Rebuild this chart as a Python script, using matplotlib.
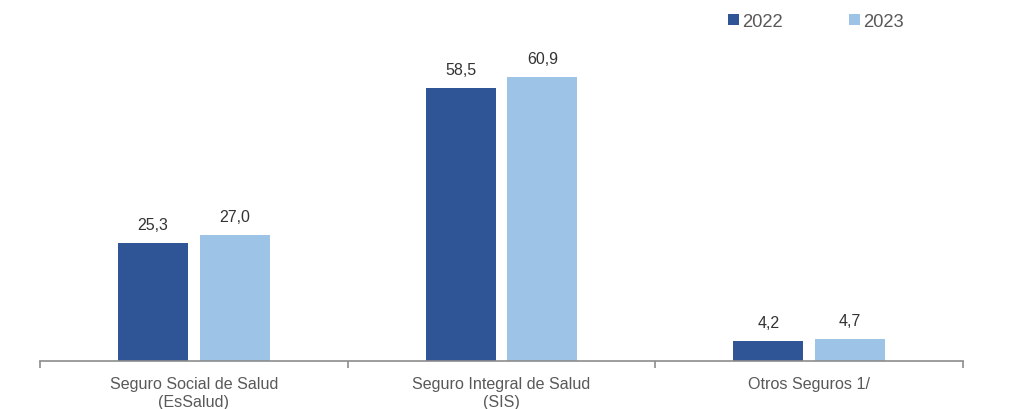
import numpy as np
import matplotlib.pyplot as plt

plt.rcParams['font.family'] = ['Liberation Sans', 'DejaVu Sans']

categorias = ['Seguro Social de Salud\n(EsSalud)', 'Seguro Integral de Salud\n(SIS)', 'Otros Seguros 1/']
valores_2022 = [25.3, 58.5, 4.2]
valores_2023 = [27.0, 60.9, 4.7]
anios = ['2022', '2023']
colores = ['#2F5597', '#9DC3E6']
gris = '#595959'

fig = plt.figure(figsize=(10.12, 4.10), dpi=100)
ax = fig.add_axes([40 / 1012, 48 / 410, 923 / 1012, 326.7 / 410])

x = np.arange(len(categorias))
ancho = 0.2275
desp = 0.133
b1 = ax.bar(x - desp, valores_2022, ancho, color=colores[0], label=anios[0])
b2 = ax.bar(x + desp, valores_2023, ancho, color=colores[1], label=anios[1])

for barras in (b1, b2):
    for b in barras:
        h = b.get_height()
        ax.annotate(f'{h:.1f}'.replace('.', ','), (b.get_x() + b.get_width() / 2, h),
                    xytext=(0, 8), textcoords='offset points', ha='center', va='bottom',
                    fontsize=11.5, color='#333333')

ax.set_xlim(-0.5, len(categorias) - 0.5)
ax.set_ylim(0, 70)
ax.set_yticks([])
for s in ['top', 'right', 'left']:
    ax.spines[s].set_visible(False)
ax.spines['bottom'].set_color('#8C8C8C')
ax.spines['bottom'].set_linewidth(1.2)

ax.set_xticks(x)
ax.set_xticklabels(categorias, fontsize=11.6, color=gris, linespacing=1.2)
ax.tick_params(axis='x', which='major', length=0, pad=11)
ax.set_xticks(np.arange(len(categorias) + 1) - 0.5, minor=True)
ax.tick_params(axis='x', which='minor', length=5, width=1.2, color='#8C8C8C', direction='out')

fig.legend(loc='upper left', bbox_to_anchor=(711 / 1012, 1.006), ncol=2, frameon=False,
           handlelength=0.6, handleheight=0.6, handletextpad=0.2, columnspacing=3.6,
           labelcolor=gris, prop={'size': 13.2})

fig.savefig('out.png', dpi=100)
